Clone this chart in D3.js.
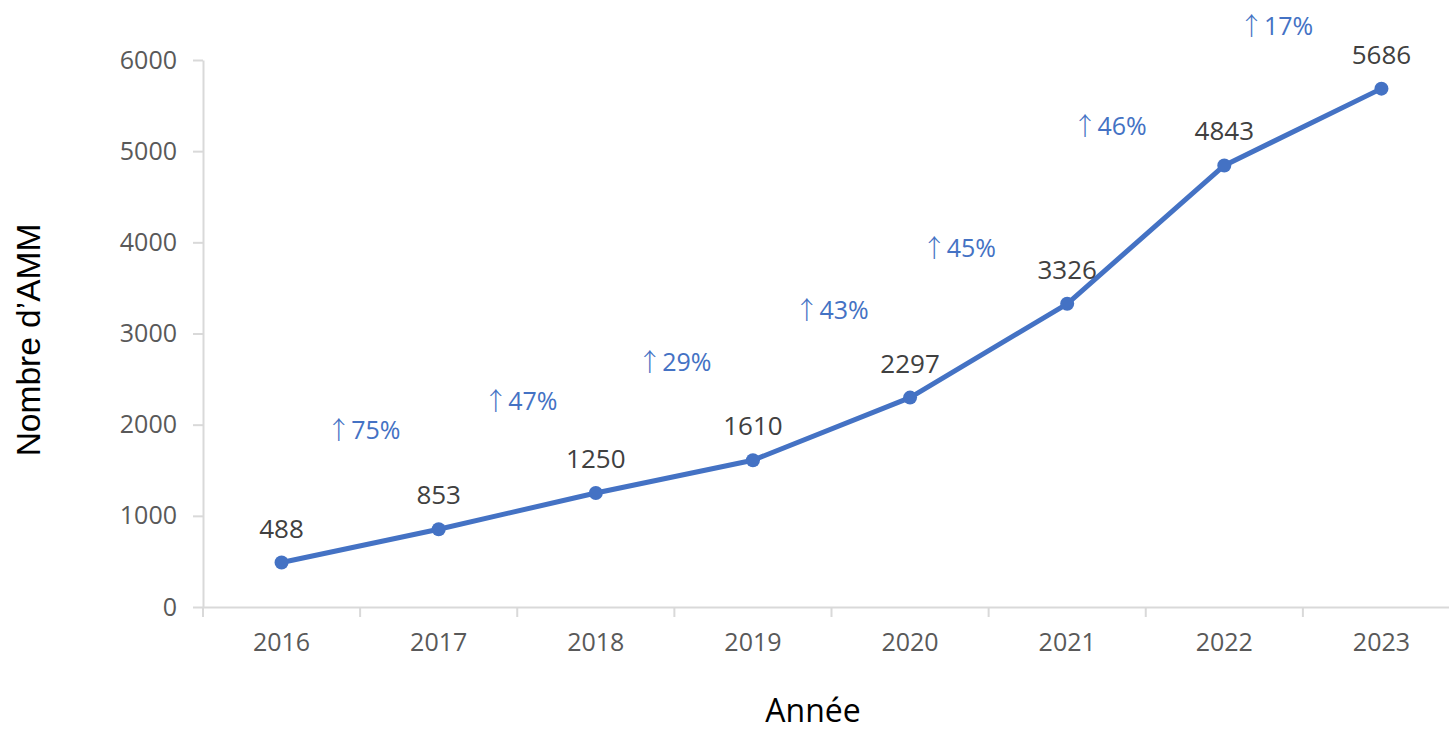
<!DOCTYPE html>
<html>
<head>
<meta charset="utf-8">
<script src="https://cdn.jsdelivr.net/npm/d3@7"></script>
<style>
  body { margin: 0; background: #fff; }
  .axis text { font-family: "Open Sans", sans-serif; font-size: 25px; fill: #595959; }
</style>
</head>
<body>
<div id="chart"></div>
<script>
// Data
var years = ['2016', '2017', '2018', '2019', '2020', '2021', '2022', '2023'];
var counts = [488, 853, 1250, 1610, 2297, 3326, 4843, 5686];
var yTicks = [0, 1000, 2000, 3000, 4000, 5000, 6000];
// growth annotations: label, position between years (index), height in value units
var growthLabels = ['75%', '47%', '29%', '43%', '45%', '46%', '17%'];
var growthPos = [0.52, 1.52, 2.5, 3.5, 4.31, 5.27, 6.33];
var growthValue = [1940, 2260, 2680, 3250, 3940, 5270, 6370];

var width = 1449, height = 731;
var margin = {top: 60, bottom: 124, left: 203, right: -11};
var innerW = width - margin.left - margin.right;
var innerH = height - margin.top - margin.bottom;

var svg = d3.select('#chart').append('svg')
    .attr('width', width)
    .attr('height', height);

var g = svg.append('g')
    .attr('transform', `translate(${margin.left},${margin.top})`);

// Scales setup
var xScale = d3.scaleBand().domain(years).range([0, innerW]).padding(0);
var yScale = d3.scaleLinear().domain([0, 6000]).range([innerH, 0]);
var xMid = (d) => xScale(d) + xScale.bandwidth() / 2;
var xAt = (p) => xScale.bandwidth() * (p + 0.5);

// Y axis
var gY = g.append('g').attr('class', 'axis')
    .call(d3.axisLeft(yScale).tickValues(yTicks).tickFormat(d3.format('d'))
        .tickSize(10).tickSizeOuter(0).tickPadding(16));
gY.select('.domain').attr('stroke', '#d9d9d9').attr('stroke-width', 2);
gY.selectAll('.tick line').attr('stroke', '#d9d9d9').attr('stroke-width', 2);

// X axis
var gX = g.append('g').attr('class', 'axis')
    .attr('transform', `translate(0,${innerH})`)
    .call(d3.axisBottom(xScale).tickSize(0).tickSizeOuter(0).tickPadding(26));
gX.select('.domain').attr('stroke', '#d9d9d9').attr('stroke-width', 2);
// boundary tick marks between years
var bounds = years.map((d) => xScale(d)).concat([innerW]);
gX.selectAll('.bound').data(bounds).enter().append('line')
    .attr('class', 'bound')
    .attr('x1', (d) => d).attr('x2', (d) => d)
    .attr('y1', 0).attr('y2', 10)
    .attr('stroke', '#d9d9d9').attr('stroke-width', 2);

// Line
var line = d3.line()
    .x((d, i) => xMid(years[i]))
    .y((d) => yScale(d));

g.append('path')
    .datum(counts)
    .attr('fill', 'none')
    .attr('stroke', '#4472c4')
    .attr('stroke-width', 5)
    .attr('stroke-linejoin', 'round')
    .attr('d', line);

g.selectAll('circle').data(counts).enter().append('circle')
    .attr('cx', (d, i) => xMid(years[i]))
    .attr('cy', (d) => yScale(d))
    .attr('r', 7)
    .attr('fill', '#4472c4');

// Value labels
g.selectAll('.vlabel').data(counts).enter().append('text')
    .attr('class', 'vlabel')
    .attr('x', (d, i) => xMid(years[i]))
    .attr('y', (d) => yScale(d) - 25)
    .attr('text-anchor', 'middle')
    .style('font-family', '"Open Sans", sans-serif')
    .style('font-size', '26px')
    .style('fill', '#404040')
    .text((d) => d);

// Growth annotations (arrow from the CJK font so it is full height)
var gl = g.selectAll('.glabel').data(growthLabels).enter().append('text')
    .attr('class', 'glabel')
    .attr('x', (d, i) => xAt(growthPos[i]))
    .attr('y', (d, i) => yScale(growthValue[i]))
    .attr('dy', '0.35em')
    .attr('text-anchor', 'middle')
    .style('font-family', '"Open Sans", sans-serif')
    .style('font-size', '25px')
    .style('fill', '#4472c4');
gl.append('tspan')
    .style('font-family', '"Noto Sans CJK JP", "DejaVu Sans", sans-serif')
    .style('font-weight', '300')
    .text('↑');
gl.append('tspan').text((d) => d);

// Axis titles
svg.append('text')
    .attr('transform', 'translate(40,340) rotate(-90)')
    .attr('text-anchor', 'middle')
    .style('font-family', '"Liberation Sans", Arial, sans-serif')
    .style('font-size', '33.5px')
    .style('fill', '#000')
    .text('Nombre d’AMM');

svg.append('text')
    .attr('x', 813)
    .attr('y', 722)
    .attr('text-anchor', 'middle')
    .style('font-family', '"Open Sans", sans-serif')
    .style('font-size', '32px')
    .style('fill', '#000')
    .text('Année');
</script>
</body>
</html>
